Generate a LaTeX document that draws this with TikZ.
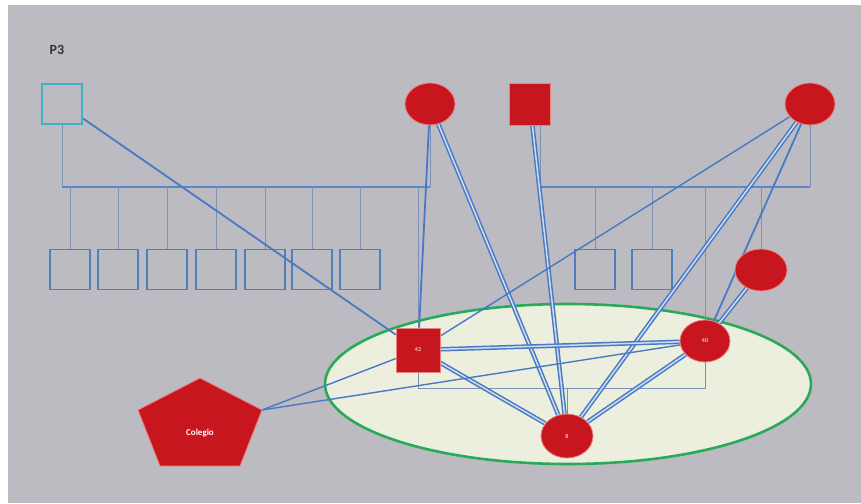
\documentclass[tikz,border=0pt]{standalone}
\usepackage{fontspec}
\setmainfont{Carlito}
\usetikzlibrary{shapes.geometric}
\pgfdeclarelayer{backdrop}
\pgfdeclarelayer{lines}
\pgfsetlayers{backdrop,lines,main}
\definecolor{bggray}{RGB}{188,187,193}
\definecolor{famline}{RGB}{125,145,180}
\definecolor{barblue}{RGB}{92,134,196}
\definecolor{linkblue}{RGB}{72,122,196}
\definecolor{dbllight}{RGB}{205,220,240}
\definecolor{boxblue}{RGB}{80,125,190}
\definecolor{cyanbox}{RGB}{64,176,196}
\definecolor{redfill}{RGB}{200,22,30}
\definecolor{rededge}{RGB}{232,130,130}
\definecolor{ovalfill}{RGB}{236,238,222}
\definecolor{ovalgreen}{RGB}{40,170,90}
\tikzset{
  redell/.style={ellipse, fill=redfill, draw=rededge, line width=0.8pt, inner sep=0pt,
    minimum width=50pt, minimum height=42pt, text=white, font=\fontsize{6}{7}\selectfont},
  redsq/.style={rectangle, fill=redfill, draw=rededge, line width=0.6pt, inner sep=0pt,
    minimum width=42pt, minimum height=42pt, text=white, font=\fontsize{6}{7}\selectfont},
  kidbox/.style={rectangle, draw=boxblue, line width=1.8pt, inner sep=0pt,
    minimum width=40pt, minimum height=40pt},
  cyanframe/.style={rectangle, draw=cyanbox, line width=2pt, inner sep=0pt,
    minimum width=40pt, minimum height=40pt},
  famthin/.style={draw=famline, line width=0.8pt},
  fambar/.style={draw=barblue, line width=1.3pt},
  onelink/.style={draw=linkblue, line width=1.8pt},
  thinlink/.style={draw=linkblue, line width=1.4pt},
  twolink/.style={draw=linkblue, double=dbllight, line width=1.5pt, double distance=1.5pt},
  pentagonfill/.style={fill=redfill, draw=rededge, line width=0.8pt},
}
\begin{document}
\begin{tikzpicture}[x=1pt,y=-1pt]
\useasboundingbox (0,0) rectangle (861,503);
\begin{pgfonlayer}{backdrop}
\fill[white] (0,0) rectangle (861,503);
\fill[bggray] (8,5) rectangle (861,503);
\draw[fill=ovalfill, draw=ovalgreen, line width=2.6pt] (568,384) ellipse [x radius=243, y radius=80];
\end{pgfonlayer}

\node[font=\fontsize{14}{16}\selectfont\bfseries, text={rgb,255:red,50;green,50;blue,55}] (p3) at (57,50) {P3};

% people
\node[cyanframe] (cy) at (62,104) {};
\node[redell] (lc) at (430,104) {};
\node[redsq, minimum width=41pt] (rsq) at (530,104) {};
\node[redell] (rc) at (810,104) {};
\node[redell, minimum width=52pt] (rm) at (761,270) {};
\foreach \i/\x in {1/70,2/118,3/167,4/216,5/265,6/312,7/360,8/595,9/652}
  \node[kidbox] (k\i) at (\x,269.5) {};
\node[redsq, minimum width=44pt, minimum height=44pt] (n42) at (418,350) {42};
\node[redell] (n40) at (705,341) {40};
\node[redell, minimum width=52pt, minimum height=44pt] (n8) at (567,436) {8};

% pentagon
\coordinate (colT) at (200,378);
\coordinate (colR) at (262,410);
\coordinate (colBR) at (240,466);
\coordinate (colBL) at (160,466);
\coordinate (colL) at (138,410);
\fill[pentagonfill] (colT) -- (colR) -- (colBR) -- (colBL) -- (colL) -- cycle;
\node[text=white, font=\fontsize{9}{11}\selectfont\bfseries] (col) at (200,433) {Colegio};

\coordinate (lbar) at (0,187);
\coordinate (cbar) at (0,388);
\coordinate (rsqdrop) at (540,125);

\begin{pgfonlayer}{lines}
% family lines
\draw[famthin] (cy.south) -- (cy.south |- lbar);
\draw[famthin] (lc.south) -- (lc.south |- lbar);
\draw[fambar] (cy.south |- lbar) -- (lc.south |- lbar);
\foreach \i in {1,...,7} \draw[famthin] (k\i.north) -- (k\i.north |- lbar);
\draw[famthin] (rsqdrop) -- (rsqdrop |- lbar);
\draw[famthin] (rc.south) -- (rc.south |- lbar);
\draw[fambar] (rsqdrop |- lbar) -- (rc.south |- lbar);
\foreach \i in {8,9} \draw[famthin] (k\i.north) -- (k\i.north |- lbar);
\draw[famthin] (n42.north) -- (n42.north |- lbar);
\draw[famthin] (n40.north) -- (n40.north |- lbar);
\draw[famthin] (rm.north) -- (rm.north |- lbar);
\draw[famthin] (n42.south) -- (n42.south |- cbar) -- (n40.south |- cbar) -- (n40.south);
\draw[famthin] (n8.north |- cbar) -- (n8.north);

% connectors
\draw[onelink] (cy) -- (n42);
\draw[onelink] (lc) -- (n42);
\draw[twolink] (lc) -- (n8);
\draw[twolink] (rsq) -- (n8);
\draw[thinlink] (rc) -- (n42);
\draw[twolink] (rc) -- (n8);
\draw[onelink] (rc) -- (n40);
\draw[twolink] (rm) -- (n40);
\draw[twolink] (n42) -- (n40);
\draw[twolink] (n42) -- (n8);
\draw[twolink] (n40) -- (n8);
\draw[thinlink] (colR) -- (n42);
\draw[thinlink] (colR) -- (n40);
\end{pgfonlayer}
\end{tikzpicture}
\end{document}
